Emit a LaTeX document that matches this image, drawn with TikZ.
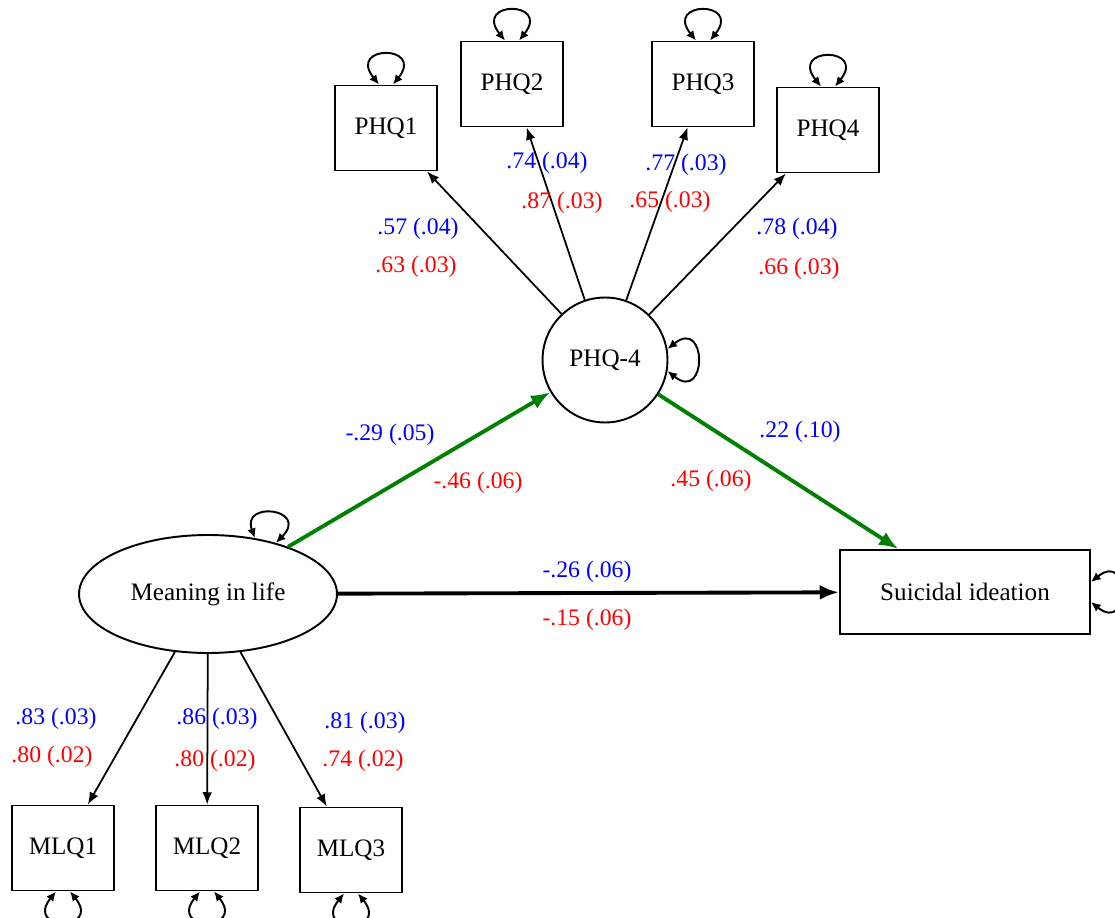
\documentclass[tikz,border=0pt]{standalone}
\usepackage{fontspec}
\setmainfont{Liberation Serif}
\usetikzlibrary{shapes.geometric,arrows.meta}
\definecolor{semgreen}{RGB}{0,128,0}
\tikzstyle{box}=[rectangle, draw=black, line width=1.1pt, minimum width=2.04cm, minimum height=1.7cm, inner sep=0pt, anchor=center, font=\fontsize{14.3}{17}\selectfont]
\tikzstyle{latent}=[draw=black, line width=1.1pt, inner sep=0pt, anchor=center, font=\fontsize{14.3}{17}\selectfont]
\tikzstyle{annot}=[align=center, inner sep=1pt]
\tikzstyle{est}=[annot, text=blue]
\tikzstyle{std}=[annot, text=red]
\tikzstyle{load}=[-{Latex[length=7pt,width=5.5pt]}, line width=1pt]
\tikzstyle{reg}=[-{Latex[length=11pt,width=8.5pt]}, line width=2.2pt]
\tikzstyle{vloop}=[{Latex[length=5.5pt,width=5pt]}-{Latex[length=5.5pt,width=5pt]}, line width=1.1pt]
\newcommand{\looptop}[1]{\draw[vloop] ([xshift=-0.14cm]#1.north) .. controls +(-32,-40) and +(32,-40) .. ([xshift=0.14cm]#1.north);}
\newcommand{\loopbottom}[1]{\draw[vloop] ([xshift=-0.14cm]#1.south) .. controls +(-32,40) and +(32,40) .. ([xshift=0.14cm]#1.south);}

\begin{document}
\begin{tikzpicture}[x=0.02cm, y=-0.02cm, font=\fontsize{13.5}{16}\selectfont]
	\useasboundingbox (0,0) rectangle (1115,918);

	% indicators of PHQ-4
	\node[box](phq1) at (386,128){PHQ1};
	\node[box](phq2) at (512,84){PHQ2};
	\node[box](phq3) at (703,84){PHQ3};
	\node[box](phq4) at (828,130){PHQ4};

	% latent variables and outcome
	\node[latent, circle, minimum size=2.5cm](phq) at (605,360){PHQ-4};
	\node[latent, ellipse, minimum width=5.16cm, minimum height=2.36cm](mil) at (208,594){Meaning in life};
	\node[box, minimum width=5cm, minimum height=1.68cm](si) at (965,592){Suicidal ideation};

	% indicators of meaning in life
	\node[box](mlq1) at (63,848){MLQ1};
	\node[box](mlq2) at (207,848){MLQ2};
	\node[box](mlq3) at (351,850){MLQ3};

	\foreach \n in {phq1,phq2,phq3,phq4}
	{
		\draw[load] (phq) -- (\n);
		\looptop{\n}
	}
	\foreach \n in {mlq1,mlq2,mlq3}
	{
		\draw[load] (mil) -- (\n);
		\loopbottom{\n}
	}

	\draw[reg, draw=semgreen, fill=semgreen] (mil) -- (phq);
	\draw[reg, draw=semgreen, fill=semgreen] (phq) -- (si);
	\draw[reg] (mil) -- (si);

	% residual variances
	\draw[vloop] (phq.10) .. controls +(40,-32) and +(40,32) .. (phq.-10);
	\draw[vloop] ([yshift=0.2cm]si.east) .. controls +(40,-32) and +(40,32) .. ([yshift=-0.2cm]si.east);
	\draw[vloop] (mil.50) .. controls +(-14,-38) and +(34,-34) .. (mil.37);

	% estimates
	\node[est](l1b) at (418,229){.57 (.04)};
	\node[std](l1r) at (416,267){.63 (.03)};
	\node[est](l2b) at (547,163){.74 (.04)};
	\node[std](l2r) at (562,203){.87 (.03)};
	\node[est](l3b) at (686,165){.77 (.03)};
	\node[std](l3r) at (670,202){.65 (.03)};
	\node[est](l4b) at (797,229){.78 (.04)};
	\node[std](l4r) at (799,269){.66 (.03)};

	\node[est](a1b) at (390,435){-.29 (.05)};
	\node[std](a1r) at (478,483){-.46 (.06)};
	\node[est](b1b) at (800,432){.22 (.10)};
	\node[std](b1r) at (711,481){.45 (.06)};
	\node[est](c1b) at (587,572){-.26 (.06)};
	\node[std](c1r) at (587,620){-.15 (.06)};

	\node[est](m1b) at (56,719){.83 (.03)};
	\node[std](m1r) at (52,757){.80 (.02)};
	\node[est](m2b) at (217,719){.86 (.03)};
	\node[std](m2r) at (215,761){.80 (.02)};
	\node[est](m3b) at (365,723){.81 (.03)};
	\node[std](m3r) at (363,761){.74 (.02)};
\end{tikzpicture}
\end{document}
